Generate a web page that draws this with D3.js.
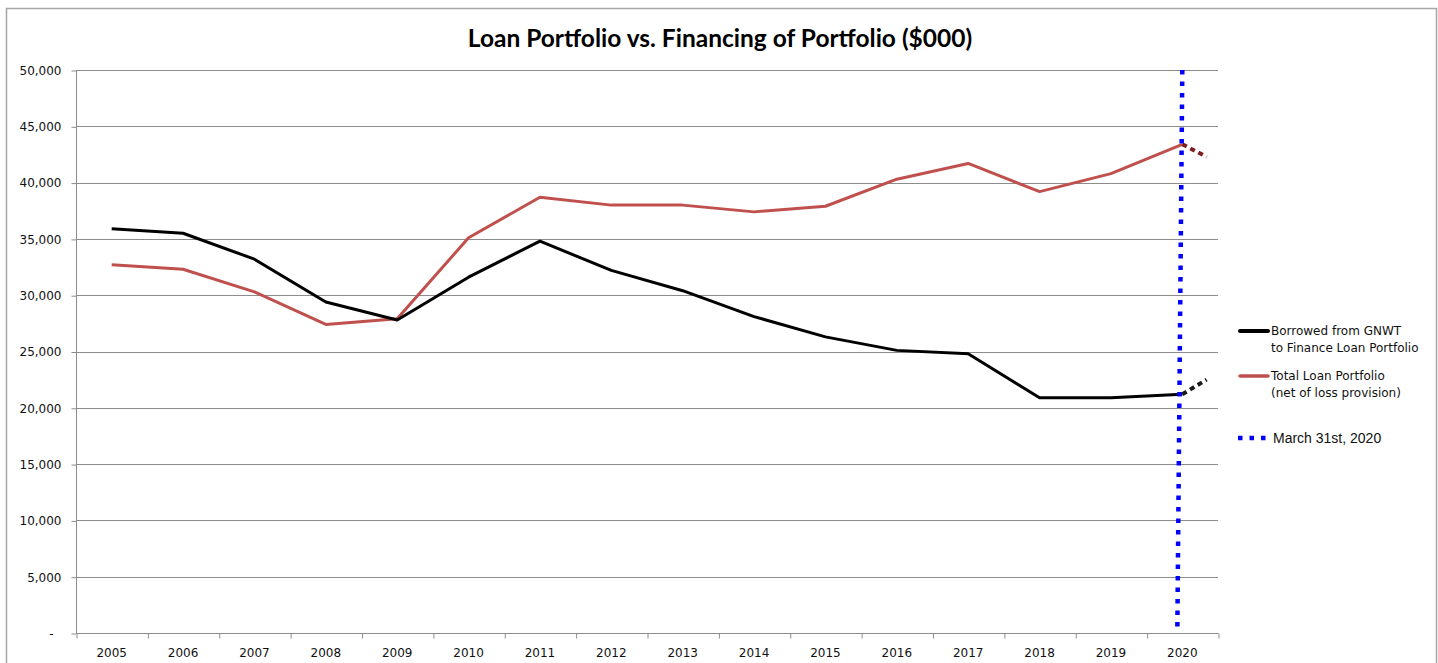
<!DOCTYPE html>
<html>
<head>
<meta charset="utf-8">
<script src="https://cdn.jsdelivr.net/npm/d3@7"></script>
<style>
  body { margin: 0; background: #fff; }
  svg { display: block; }
</style>
</head>
<body>
<div id="chart"></div>
<script>
// datos (miles de $)
const years = [2005, 2006, 2007, 2008, 2009, 2010, 2011, 2012, 2013, 2014, 2015, 2016, 2017, 2018, 2019, 2020];
const borrowed = [35900, 35500, 33200, 29400, 27800, 31600, 34800, 32200, 30400, 28100, 26300, 25100, 24800, 20900, 20900, 21200];
const portfolio = [32700, 32300, 30300, 27400, 27900, 35100, 38700, 38000, 38000, 37400, 37900, 40300, 41700, 39200, 40800, 43400];

// tramo punteado despues de 2020
const projectionX = [2020, 2020.34];
const borrowedProjection = [21200, 22500];
const portfolioProjection = [43400, 42300];

// linea azul "March 31st, 2020" (un poco inclinada en el original)
const markerX = [2020, 2019.93];
const markerY = [50000, 0];

const yTicks = [0, 5000, 10000, 15000, 20000, 25000, 30000, 35000, 40000, 45000, 50000];

const title = "Loan Portfolio vs. Financing of Portfolio ($000)";
const legendItems = [
  { lines: ["Borrowed from GNWT", "to Finance Loan Portfolio"], color: "#000", type: "solid", width: 4 },
  { lines: ["Total Loan Portfolio", "(net of loss provision)"], color: "#c0504d", type: "solid", width: 3.5 },
  { lines: ["March 31st, 2020"], color: "#0000ff", type: "dots", width: 4.5 }
];

const svgWidth = 1438;
const svgHeight = 663;
const margin = { top: 70, right: 220, bottom: 30, left: 76 };
const plotRight = svgWidth - margin.right; // 1218
const plotBottom = svgHeight - margin.bottom; // 633

const svg = d3.select("#chart")
  .append("svg")
  .attr("width", svgWidth)
  .attr("height", svgHeight);

// marco exterior del grafico
svg.append("rect")
  .attr("x", 6.5).attr("y", 8.5)
  .attr("width", 1430).attr("height", 700)
  .attr("fill", "none")
  .attr("stroke", "#a6a6a6")
  .attr("stroke-width", 1.5);

const xScale = d3.scaleLinear()
  .domain([years[0] - 0.5, years[years.length - 1] + 0.5])
  .range([margin.left, plotRight]);

const yScale = d3.scaleLinear()
  .domain([0, 50000])
  .range([plotBottom, margin.top]);

// lineas de grilla
svg.append("g")
  .selectAll("line")
  .data(yTicks.slice(1))
  .enter().append("line")
  .attr("x1", margin.left).attr("x2", plotRight)
  .attr("y1", d => Math.round(yScale(d)) + 0.5)
  .attr("y2", d => Math.round(yScale(d)) + 0.5)
  .attr("stroke", "#8c8c8c")
  .attr("stroke-width", 1);

// eje Y
const yAxis = svg.append("g")
  .attr("class", "y-axis")
  .attr("transform", `translate(${margin.left + 0.5},0.5)`)
  .call(d3.axisLeft(yScale)
    .tickValues(yTicks)
    .tickSize(5)
    .tickPadding(10)
    .tickFormat(d => d === 0 ? "-" : d3.format(",")(d)));
yAxis.select(".domain").attr("stroke", "#8c8c8c").attr("d", `M0,${margin.top - 0.5}V${plotBottom}`);
yAxis.selectAll(".tick line").attr("stroke", "#8c8c8c");
yAxis.selectAll(".tick text")
  .style("font-family", "DejaVu Sans, sans-serif")
  .style("font-size", "12px")
  .attr("fill", "#111")
  .attr("dx", d => d === 0 ? -8 : 0);

// eje X: marcas en los limites de cada categoria
const boundaries = years.map(y => y - 0.5).concat([years[years.length - 1] + 0.5]);
const xAxis = svg.append("g")
  .attr("class", "x-axis")
  .attr("transform", `translate(0.5,${Math.round(plotBottom) + 0.5})`)
  .call(d3.axisBottom(xScale)
    .tickValues(boundaries)
    .tickSize(5)
    .tickFormat(""));
xAxis.select(".domain").attr("stroke", "#8c8c8c").attr("d", `M${margin.left},0H${plotRight}`);
xAxis.selectAll(".tick line").attr("stroke", "#8c8c8c");

svg.append("g")
  .selectAll("text")
  .data(years)
  .enter().append("text")
  .attr("x", d => xScale(d))
  .attr("y", 657)
  .attr("text-anchor", "middle")
  .style("font-family", "DejaVu Sans, sans-serif")
  .style("font-size", "12px")
  .attr("fill", "#111")
  .text(d => d);

// lineas de datos
const line = d3.line()
  .x(d => xScale(d[0]))
  .y(d => yScale(d[1]));

svg.append("path")
  .datum(years.map((y, i) => [y, portfolio[i]]))
  .attr("d", line)
  .attr("fill", "none")
  .attr("stroke", "#c0504d")
  .attr("stroke-width", 3)
  .attr("stroke-linejoin", "round");

svg.append("path")
  .datum(years.map((y, i) => [y, borrowed[i]]))
  .attr("d", line)
  .attr("fill", "none")
  .attr("stroke", "#000")
  .attr("stroke-width", 3)
  .attr("stroke-linejoin", "round");

// proyecciones punteadas
svg.append("path")
  .datum(projectionX.map((x, i) => [x, portfolioProjection[i]]))
  .attr("d", line)
  .attr("fill", "none")
  .attr("stroke", "#7f1d1d")
  .attr("stroke-width", 4)
  .attr("stroke-dasharray", "5,4");

svg.append("path")
  .datum(projectionX.map((x, i) => [x, borrowedProjection[i]]))
  .attr("d", line)
  .attr("fill", "none")
  .attr("stroke", "#1a1a1a")
  .attr("stroke-width", 4)
  .attr("stroke-dasharray", "5,4");

// linea azul del 31 de marzo
svg.append("path")
  .datum(markerX.map((x, i) => [x, markerY[i]]))
  .attr("d", line)
  .attr("fill", "none")
  .attr("stroke", "#0000ff")
  .attr("stroke-width", 4.5)
  .attr("stroke-dasharray", "4.5,7");

// titulo
svg.append("text")
  .attr("x", 720)
  .attr("y", 47)
  .attr("text-anchor", "middle")
  .style("font-family", "Lato, sans-serif")
  .style("font-weight", "bold")
  .style("font-size", "24.5px")
  .attr("fill", "#000")
  .text(title);

// leyenda
const legendTop = [331, 376, 438];
const legend = svg.append("g").attr("class", "legend");
legendItems.forEach((item, i) => {
  const g = legend.append("g").attr("transform", `translate(0,${legendTop[i]})`);
  if (item.type === "solid") {
    g.append("line")
      .attr("x1", 1240).attr("x2", 1268)
      .attr("y1", 0).attr("y2", 0)
      .attr("stroke", item.color)
      .attr("stroke-width", item.width)
      .attr("stroke-linecap", "round");
    item.lines.forEach((t, j) => {
      g.append("text")
        .attr("x", 1271)
        .attr("y", 4 + j * 17)
        .style("font-family", "DejaVu Sans, sans-serif")
        .style("font-size", "12px")
        .attr("fill", "#111")
        .text(t);
    });
  } else {
    g.append("line")
      .attr("x1", 1238).attr("x2", 1270)
      .attr("y1", 0).attr("y2", 0)
      .attr("stroke", item.color)
      .attr("stroke-width", item.width)
      .attr("stroke-dasharray", "4.5,7");
    g.append("text")
      .attr("x", 1273)
      .attr("y", 5)
      .style("font-family", "Liberation Sans, Arial, sans-serif")
      .style("font-size", "14px")
      .attr("fill", "#111")
      .text(item.lines[0]);
  }
});
</script>
</body>
</html>
